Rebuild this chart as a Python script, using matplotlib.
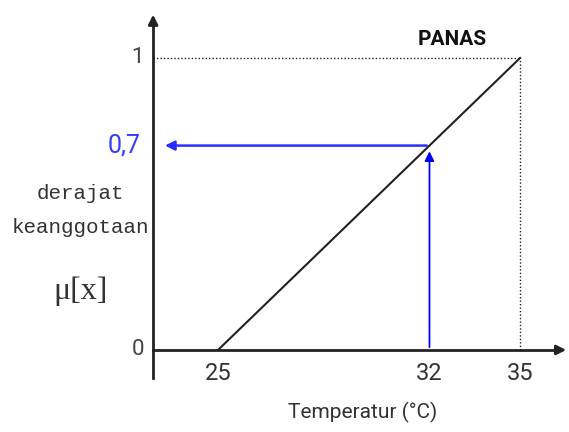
import matplotlib.pyplot as plt

# membership function "PANAS" (hot): rises from 25 to 35 degrees
x_points = [25, 35]
mu_points = [0, 1]
x_ticks = [25, 32, 35]
x_input = 32
mu_input = 0.7

narrow = ['Liberation Sans Narrow', 'Roboto', 'DejaVu Sans']

fig = plt.figure(figsize=(5.69, 4.32), dpi=100)
ax = fig.add_axes([0, 0, 1, 1])
ax.set_xlim(17.78, 36.62)
ax.set_ylim(-0.281, 1.1986)
ax.axis('off')

x0 = 22.85  # where the vertical axis sits

# axes with arrow heads
ax.plot([x0, x0], [-0.096, 1.12], color='#222222', lw=2)
ax.annotate('', xy=(x0, 1.158), xytext=(x0, 1.10),
            arrowprops=dict(arrowstyle='-|>', color='#222222', lw=2, mutation_scale=14))
ax.plot([x0, 36.3], [0, 0], color='#222222', lw=2)
ax.annotate('', xy=(36.62, 0), xytext=(36.2, 0),
            arrowprops=dict(arrowstyle='-|>', color='#222222', lw=2, mutation_scale=14))

# membership line
ax.plot(x_points, mu_points, color='#222222', lw=1.5)

# dotted guides to the peak
ax.plot([x0, x_points[1]], [mu_points[1], mu_points[1]], color='#222222', lw=1, ls=(0, (1, 1.5)))
ax.plot([x_points[1], x_points[1]], [0, mu_points[1]], color='#222222', lw=1, ls=(0, (1, 1.5)))

# blue input/output arrows
ax.annotate('', xy=(x_input, mu_input - 0.01), xytext=(x_input, 0),
            arrowprops=dict(arrowstyle='-|>', color='#0000ff', lw=1.3, mutation_scale=14))
ax.annotate('', xy=(x0 + 0.3, mu_input), xytext=(x_input, mu_input),
            arrowprops=dict(arrowstyle='-|>', color='#2b2bff', lw=1.8, mutation_scale=14))

# tick labels
for t in x_ticks:
    ax.text(t, -0.04, str(t), ha='center', va='top', fontsize=17, family=narrow, color='#333333')
ax.text(x0 - 0.3, 0, '0', ha='right', va='center', fontsize=16, family=narrow, color='#444444')
ax.text(x0 - 0.3, 1, '1', ha='right', va='center', fontsize=16, family=narrow, color='#444444')
ax.text(x0 - 0.4, mu_input, '0,7', ha='right', va='center', fontsize=18, family=narrow, color='#3a3aff')

# labels
ax.text(29.8, -0.215, 'Temperatur (°C)', ha='center', va='center', fontsize=15, family=narrow, color='#333333')
ax.text(20.45, 0.535, 'derajat', ha='center', va='center', fontsize=15, family='Liberation Mono', color='#333333')
ax.text(20.45, 0.42, 'keanggotaan', ha='center', va='center', fontsize=15, family='Liberation Mono', color='#333333')
ax.text(20.45, 0.2, 'μ[x]', ha='center', va='center', fontsize=23, family='Liberation Serif', color='#333333')
ax.text(32.75, 1.065, 'PANAS', ha='center', va='center', fontsize=15, family=narrow,
        fontweight='bold', color='#111111')

fig.savefig('out.png', dpi=100)
